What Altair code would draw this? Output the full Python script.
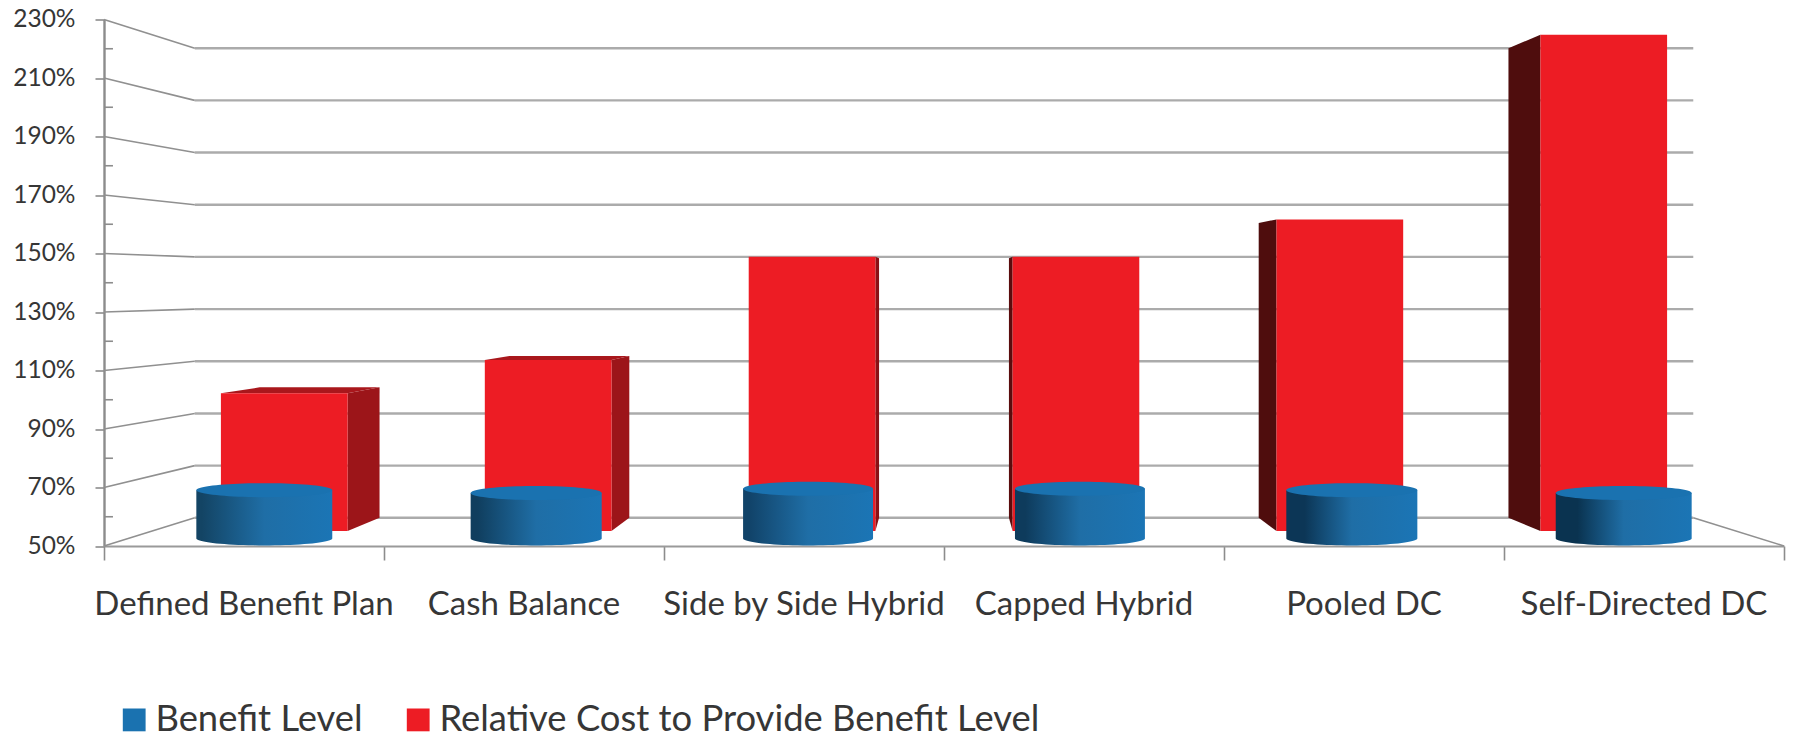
import math

import altair as alt
import pandas as pd

# Chart values
categories = ["Defined Benefit Plan", "Cash Balance", "Side by Side Hybrid",
              "Capped Hybrid", "Pooled DC", "Self-Directed DC"]
relative_cost = [100, 112, 149.5, 149.5, 163, 230]
benefit_level = [67, 66, 67.5, 67.5, 67, 66]
major_ticks = [50, 70, 90, 110, 130, 150, 170, 190, 210, 230]
minor_ticks = [60, 80, 100, 120, 140, 160, 180, 200, 220]
series_names = ["Benefit Level", "Relative Cost to Provide Benefit Level"]

# Styling per bar and per cylinder
side_colors = ["#9c1519", "#9c1519", "#8a1014", "#5a0c0d", "#4f0d0d", "#4f0d0d"]
top_color = "#a9171c"
cylinder_widths = [0.5, 0.482, 0.478, 0.478, 0.482, 0.5]
cylinder_dark = ["#134464", "#103e5e", "#114369", "#0e3b5c", "#0c3656", "#0a3350"]
cylinder_dark_at = [0.04, 0.05, 0.05, 0.08, 0.14, 0.16]

# One-point perspective: depth factors and the vanishing point in data units
EYE_SLOT, EYE_VALUE = 3.0, 139.2
DEPTH_FRONT, DEPTH_BAR, DEPTH_CYL, DEPTH_BACK = 1.0, 0.9425, 0.971, 0.892
BAR_LEFT, BAR_RIGHT = 0.26, 0.74
FLOOR = 50
ELLIPSE_H = 2.4

W, H = 1680, 526.5
x_scale = alt.Scale(domain=[0, 6], range=[0, W], nice=False, zero=False)
y_scale = alt.Scale(domain=[50, 230], range=[H, 0], nice=False, zero=False)
FONT = "Lato"
TEXT = "#363636"


def px(slot, depth):
    return EYE_SLOT + (slot - EYE_SLOT) * depth


def py(value, depth):
    return EYE_VALUE + (value - EYE_VALUE) * depth


x_axis = alt.Axis(
    values=list(range(7)), labels=False, tickSize=14, tickColor="#8c8c8c", title=None,
    tickWidth=1.6, domainColor="#9a9a9a", domainWidth=2, grid=False)
y_axis = alt.Axis(
    values=major_ticks, tickSize=9, tickColor="#8c8c8c", tickWidth=1.6, title=None,
    domainColor="#8c8c8c", domainWidth=2.4, grid=False, labelFont=FONT,
    labelFontSize=24.5, labelColor=TEXT, labelPadding=20,
    labelExpr="datum.value + '%'")
X = alt.X("x:Q", scale=x_scale, axis=x_axis)
Y = alt.Y("y:Q", scale=y_scale, axis=y_axis)

# Back-wall gridlines
back_grid = pd.DataFrame({
    "x": px(0, DEPTH_BACK), "x2": px(6, DEPTH_BACK),
    "y": [py(v, DEPTH_BACK) for v in major_ticks],
})
grid_layer = alt.Chart(back_grid).mark_rule(color="#ababab", strokeWidth=2.4).encode(
    x=X, x2="x2:Q", y=Y)

# Left wall and right floor edge receding toward the back
wall = pd.DataFrame(
    [{"x": 0, "x2": px(0, DEPTH_BACK), "y": v, "y2": py(v, DEPTH_BACK)} for v in major_ticks]
    + [{"x": 6, "x2": px(6, DEPTH_BACK), "y": FLOOR, "y2": py(FLOOR, DEPTH_BACK)}]
)
wall_layer = alt.Chart(wall).mark_rule(color="#909090", strokeWidth=1.6).encode(
    x=X, x2="x2:Q", y=Y, y2="y2:Q")

minor = pd.DataFrame({"x": 0.0, "x2": 0.032, "y": minor_ticks})
minor_layer = alt.Chart(minor).mark_rule(color="#8c8c8c", strokeWidth=1.6).encode(
    x=X, x2="x2:Q", y=Y)

# Side and top faces of the cost bars
side_rows, top_rows, front_rows = [], [], []
for i, (name, v) in enumerate(zip(categories, relative_cost)):
    near = BAR_RIGHT if i < 3 else BAR_LEFT
    for depth in (DEPTH_BAR, DEPTH_BACK):
        side_rows.append({"cat": name, "x": px(i + near, depth), "y": py(v, depth),
                          "y2": py(FLOOR, depth), "shade": side_colors[i]})
    front_rows.append({"cat": name, "x": px(i + BAR_LEFT, DEPTH_BAR),
                       "x2": px(i + BAR_RIGHT, DEPTH_BAR), "y": py(v, DEPTH_BAR),
                       "y2": py(FLOOR, DEPTH_BAR), "series": series_names[1]})
    if v < EYE_VALUE:
        f, b = py(v, DEPTH_BAR), py(v, DEPTH_BACK)
        corners = [(px(i + BAR_LEFT, DEPTH_BAR), f, f), (px(i + BAR_LEFT, DEPTH_BACK), b, f),
                   (px(i + BAR_RIGHT, DEPTH_BAR), b, f), (px(i + BAR_RIGHT, DEPTH_BACK), b, b)]
        top_rows += [{"cat": name, "x": c[0], "y": c[1], "y2": c[2]} for c in corners]

side_layer = alt.Chart(pd.DataFrame(side_rows)).mark_area(interpolate="linear").encode(
    x=X, y=Y, y2="y2:Q", detail="cat:N", fill=alt.Fill("shade:N", scale=None))
top_layer = alt.Chart(pd.DataFrame(top_rows)).mark_area(
    interpolate="linear", color=top_color).encode(x=X, y=Y, y2="y2:Q", detail="cat:N")

legend = alt.Legend(
    title=None, orient="none", legendX=12, legendY=682, columns=2, columnPadding=37,
    symbolType="square", symbolSize=520, symbolStrokeWidth=0, labelFont=FONT,
    labelFontSize=36.4, labelColor=TEXT, labelOffset=3, labelLimit=800)
color_enc = alt.Color("series:N", legend=legend, scale=alt.Scale(
    domain=series_names, range=["#1a72b0", "#ed1c24"]))

front_layer = alt.Chart(pd.DataFrame(front_rows)).mark_rect().encode(
    x=X, x2="x2:Q", y=Y, y2="y2:Q", color=color_enc)

# Benefit cylinders: a shaded body with a curved base, then a flat elliptical lid
cylinder_layers = []
lid_rows = []
for i, (name, v) in enumerate(zip(categories, benefit_level)):
    centre = px(i + 0.5, DEPTH_CYL)
    rx = cylinder_widths[i] * DEPTH_CYL / 2
    rim, base = py(v, DEPTH_CYL), py(FLOOR, DEPTH_CYL)
    body_rows = []
    for k in range(41):
        t = math.pi * (1 - k / 40)
        cx = centre + rx * math.cos(t)
        sag = ELLIPSE_H * math.sin(t)
        body_rows.append({"x": cx, "y": rim, "y2": base - sag})
        lid_rows.append({"cat": name, "x": cx, "y": rim + sag, "y2": rim - sag,
                         "series": series_names[0]})
    at = cylinder_dark_at[i]
    gradient = alt.Gradient(
        gradient="linear", x1=0, x2=1, y1=0, y2=0,
        stops=[alt.GradientStop(color=cylinder_dark[i], offset=0),
               alt.GradientStop(color=cylinder_dark[i], offset=at),
               alt.GradientStop(color="#1f6ea6", offset=0.5),
               alt.GradientStop(color="#1b75b5", offset=1)])
    cylinder_layers.append(
        alt.Chart(pd.DataFrame(body_rows)).mark_area(color=gradient, interpolate="linear")
        .encode(x=X, y=Y, y2="y2:Q"))

lid_layer = alt.Chart(pd.DataFrame(lid_rows)).mark_area(interpolate="linear").encode(
    x=X, y=Y, y2="y2:Q", detail="cat:N", color=color_enc)

# Category names under the floor
label_df = pd.DataFrame({"x": [i + 0.5 for i in range(6)], "label": categories})
label_layer = alt.Chart(label_df).mark_text(
    font=FONT, fontSize=33, color=TEXT, baseline="middle", align="center").encode(
    x=X, y=alt.value(585.5), text="label:N")

chart = alt.layer(
    grid_layer, wall_layer, minor_layer, side_layer, top_layer, front_layer,
    *cylinder_layers, lid_layer, label_layer,
).resolve_scale(color="shared").properties(
    width=W, height=H, autosize="none",
    padding={"left": 104, "top": 19.5, "right": 12, "bottom": 198},
    background="white",
).configure_view(stroke=None)

chart.save("out.html", embed_options={"renderer": "svg", "actions": False})
